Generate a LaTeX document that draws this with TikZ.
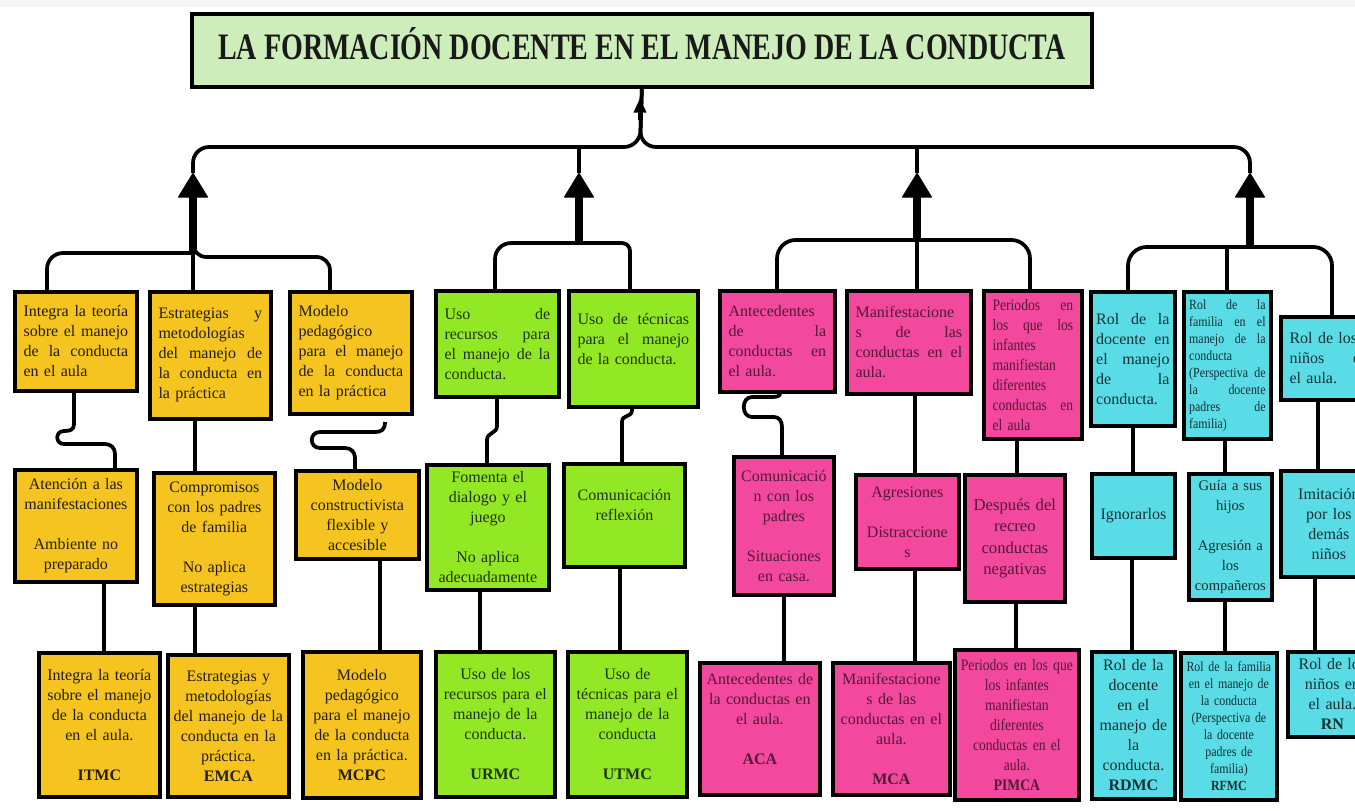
\documentclass[tikz,border=0pt]{standalone}
\usepackage{fontspec}
\setmainfont{Liberation Serif}
\newfontfamily\narrowfont[FakeStretch=0.85]{Liberation Serif}
\newfontfamily\titlefont[FakeStretch=0.75]{Liberation Serif}
\usepackage{xcolor}
\usepackage{tikz}
\usetikzlibrary{arrows.meta}
\setlength{\parindent}{0pt}

\definecolor{titlefill}{RGB}{205,238,186}
\definecolor{orangefill}{RGB}{245,196,32}
\definecolor{greenfill}{RGB}{146,232,36}
\definecolor{pinkfill}{RGB}{242,72,158}
\definecolor{cyanfill}{RGB}{90,220,230}

\begin{document}
\begin{tikzpicture}[x=0.75pt,y=0.75pt,yscale=-1,xscale=1,
	box/.style={draw=black, line width=2.8pt, anchor=north west, inner xsep=4pt, inner ysep=1pt, font=\fontsize{12}{15}\selectfont},
	sz/.style 2 args={minimum width=#1*0.75pt, minimum height=#2*0.75pt, text width=#1*0.75pt-8pt},
	jsz/.style 2 args={minimum width=#1*0.75pt, minimum height=#2*0.75pt, text width=#1*0.75pt-13pt},
	obox/.style={box, fill=orangefill, text=orangefill!15!black},
	gbox/.style={box, fill=greenfill, text=greenfill!22!black},
	pbox/.style={box, fill=pinkfill, text=pinkfill!35!black},
	cbox/.style={box, fill=cyanfill, text=cyanfill!22!black},
	jl/.style={align=left},
	cl/.style={align=center},
	narrow/.style={font=\narrowfont\fontsize{12}{15}\selectfont},
	small/.style={font=\narrowfont\fontsize{10.5}{12.75}\selectfont},
	link/.style={line width=2.8pt, line join=round},
	bigarrow/.style={line width=6.5pt, -{Triangle[width=23pt,length=19pt,line width=1pt,round]}},
	smallarrow/.style={line width=2.8pt, -{Triangle[width=9pt,length=11pt]}}
]
				\path[use as bounding box] (0,0) rectangle (1355,810);
				\clip (0,0) rectangle (1355,810);
				\fill[gray!8] (0,0) rectangle (1355,7);
				
				%Shape: Rectangle [title]
				\node[draw=black, line width=2.8pt, fill=titlefill, anchor=north west, minimum width=900*0.75pt, minimum height=73*0.75pt, text depth=11pt, text=black!90] (title) at (190,12) {\titlefont\fontsize{28}{30}\selectfont\bfseries LA FORMACIÓN DOCENTE EN EL MANEJO DE LA CONDUCTA};
				
				%Shape: Rectangle [orange, first row]
				\node[obox, jl, jsz={122}{99}] (teoria) at (13,290) {Integra \hfill la \hfill teoría\\ sobre \hfill el \hfill manejo\\ de \hfill la \hfill conducta\\ en el aula};
				\node[obox, jl, jsz={121}{127}] (estrategias) at (148,290) {Estrategias \hfill y\\ metodologías\\ del \hfill manejo \hfill de\\ la \hfill conducta \hfill en\\ la práctica};
				\node[obox, jl, jsz={122}{122}] (modelo) at (288,290) {Modelo\\ pedagógico\\ para \hfill el \hfill manejo\\ de \hfill la \hfill conducta\\ en la práctica};
				%Shape: Rectangle [orange, second row]
				\node[obox, cl, sz={122}{112}] (atencion) at (13,468) {Atención a las\\ manifestaciones\\[15pt] Ambiente no\\ preparado};
				\node[obox, cl, sz={121}{132}] (compromisos) at (152,471) {Compromisos\\ con los padres\\ de familia\\[15pt] No aplica\\ estrategias};
				\node[obox, cl, sz={123}{88}] (constructivista) at (294,469) {Modelo\\ constructivista\\ flexible y\\ accesible};
				%Shape: Rectangle [orange, third row]
				\node[obox, cl, sz={121}{144}] (itmc) at (37,651) {Integra la teoría\\ sobre el manejo\\ de la conducta\\ en el aula.\\[15pt] \textbf{ITMC}};
				\node[obox, cl, sz={121}{142}] (emca) at (166,653) {Estrategias y\\ metodologías\\ del manejo de la\\ conducta en la\\ práctica.\\ \textbf{EMCA}};
				\node[obox, cl, sz={118}{146}] (mcpc) at (301,650) {Modelo\\ pedagógico\\ para el manejo\\ de la conducta\\ en la práctica.\\ \textbf{MCPC}};
				
				%Shape: Rectangle [green]
				\node[gbox, jl, jsz={123}{106}] (recursos) at (434,289) {Uso \hfill de\\ recursos \hfill para\\ el \hfill manejo \hfill de \hfill la\\ conducta.};
				\node[gbox, jl, jsz={129}{116}] (tecnicas) at (567,289) {Uso \hfill de \hfill técnicas\\ para \hfill el \hfill manejo\\ de la conducta.\\ \mbox{}};
				\node[gbox, cl, sz={122}{125}] (fomenta) at (425,463) {Fomenta el\\ dialogo y el\\ juego\\[15pt] No aplica\\ adecuadamente};
				\node[gbox, cl, sz={121}{103}] (comunicacion) at (562,462) {Comunicación\\ reflexión\\ \mbox{}};
				\node[gbox, cl, sz={119}{145}] (urmc) at (434,650) {Uso de los\\ recursos para el\\ manejo de la\\ conducta.\\[15pt] \textbf{URMC}};
				\node[gbox, cl, sz={119}{145}] (utmc) at (566,650) {Uso de\\ técnicas para el\\ manejo de la\\ conducta\\[15pt] \textbf{UTMC}};
				
				%Shape: Rectangle [pink]
				\node[pbox, jl, jsz={115}{101}] (antecedentes) at (718,289) {Antecedentes\\ de \hfill la\\ conductas \hfill en\\ el aula.};
				\node[pbox, jl, jsz={124}{103}] (manifestaciones) at (845,289) {Manifestacione\\ s \hfill de \hfill las\\ conductas \hfill en \hfill el\\ aula.};
				\node[pbox, jl, narrow, jsz={98}{148}] (periodos) at (982,289) {Periodos \hfill en\\ los \hfill que \hfill los\\ infantes\\ manifiestan\\ diferentes\\ conductas \hfill en\\ el aula};
				\node[pbox, cl, sz={100}{138}] (padres) at (732,455) {Comunicació\\ n con los\\ padres\\[15pt] Situaciones\\ en casa.};
				\node[pbox, cl, sz={103}{94}] (agresiones) at (854,473) {Agresiones\\[15pt] Distraccione\\ s};
				\node[pbox, cl, sz={100}{127}, font=\fontsize{12.5}{16}\selectfont] (recreo) at (963,473) {Después del\\ recreo\\ conductas\\ negativas};
				\node[pbox, cl, sz={120}{132}] (aca) at (698,661) {Antecedentes de\\ la conductas en\\ el aula.\\[15pt] \textbf{ACA}\\ \mbox{}};
				\node[pbox, cl, sz={117}{132}] (mca) at (831,661) {Manifestacione\\ s de las\\ conductas en el\\ aula.\\[15pt] \textbf{MCA}};
				\node[pbox, cl, narrow, sz={124}{150}] (pimca) at (953,648) {Periodos en los que\\ los infantes\\ manifiestan\\ diferentes\\ conductas en el\\ aula.\\ \textbf{PIMCA}};
				
				%Shape: Rectangle [cyan]
				\node[cbox, jl, sz={84}{134}] (docente) at (1089,290) {Rol \hfill de \hfill la\\ docente \hfill en\\ el \hfill manejo\\ de \hfill la\\ conducta.};
				\node[cbox, jl, small, sz={87}{147}] (familia) at (1182,290) {Rol \hfill de \hfill la\\ familia \hfill en \hfill el\\ manejo \hfill de \hfill la\\ conducta\\ (Perspectiva \hfill de\\ la \hfill docente\\ padres \hfill de\\ familia)};
				\node[cbox, jl, jsz={96}{83}] (ninos) at (1279,315) {Rol de los\\ niños \hfill en\\ el aula.};
				\node[cbox, cl, sz={83}{84}] (ignorarlos) at (1090,472) {Ignorarlos};
				\node[cbox, cl, sz={83}{126}, font=\fontsize{11}{15}\selectfont] (guia) at (1187,472) {Guía a sus\\ hijos\\[15pt] Agresión a\\ los\\ compañeros};
				\node[cbox, cl, sz={96}{106}] (imitacion) at (1279,469) {Imitación\\ por los\\ demás\\ niños};
				\node[cbox, cl, sz={83}{147}] (rdmc) at (1090,650) {Rol de la\\ docente\\ en el\\ manejo de\\ la\\ conducta.\\ \textbf{RDMC}};
				\node[cbox, cl, small, sz={96}{147}] (rfmc) at (1179,651) {Rol de la familia\\ en el manejo de\\ la conducta\\ (Perspectiva de\\ la docente\\ padres de\\ familia)\\ \textbf{RFMC}};
				\node[cbox, cl, sz={89}{85}] (rn) at (1286,650) {Rol de los\\ niños en\\ el aula.\\ \textbf{RN}};
				
				\coordinate (j1) at (193,253); \coordinate (a1) at (193,173);
				\coordinate (j2) at (579,243); \coordinate (a2) at (579,173); \coordinate (b2) at (579,147);
				\coordinate (j3) at (917,240); \coordinate (a3) at (917,173); \coordinate (b3) at (917,147);
				\coordinate (j4) at (1250,247); \coordinate (a4) at (1250,173);
				\coordinate (tip) at (640,98);
				\coordinate (hook3) at (385,422);
				
				%Straight Lines [main bar]
				\draw[link, rounded corners=12] (title.south) -- (640,147) -- (193,147) -- (a1);
				\draw[link, rounded corners=12] (title.south) -- (640,147) -- (1250,147) -- (a4);
				\draw[link] (b2) -- (a2);
				\draw[link] (b3) -- (a3);
				\draw[smallarrow] (tip) ++(0,22) -- (tip);
				\draw[bigarrow] (j1) -- (a1);
				\draw[bigarrow] (j2) -- (a2);
				\draw[bigarrow] (j3) -- (a3);
				\draw[bigarrow] (j4) -- (a4);
				
				%Straight Lines [branches]
				\draw[link, rounded corners=12] (j1) -| (47,0 |- teoria.north);
				\draw[link] (j1) -- (j1 |- estrategias.north);
				\draw[link, rounded corners=10] (j1) ++(0,-12) |- (330,257) -- (330,0 |- modelo.north);
				\draw[link, rounded corners=12] (j2) -| (495,0 |- recursos.north);
				\draw[link, rounded corners=6] (j2) -| (630,0 |- tecnicas.north);
				\draw[link, rounded corners=14] (j3) -| (777,0 |- antecedentes.north);
				\draw[link] (j3) -- (j3 |- manifestaciones.north);
				\draw[link, rounded corners=14] (j3) -| (1030,0 |- periodos.north);
				\draw[link, rounded corners=14] (j4) -| (1128,0 |- docente.north);
				\draw[link] (1227,0 |- j4) -- (1227,0 |- familia.north);
				\draw[link, rounded corners=14] (j4) -| (1332,0 |- ninos.north);
				
				%Curve Lines
				\draw[link] (74,0 |- teoria.south) -- (74,424) .. controls (74,430) and (70,431) .. (64,431) .. controls (55,431) and (55,444) .. (64,444) -- (105,444) .. controls (111,444) and (115,448) .. (115,454) -- (115,0 |- atencion.north);
				\draw[link] (hook3) .. controls (385,430) and (381,432) .. (375,432) -- (320,432) .. controls (309,432) and (309,448) .. (320,448) -- (345,448) .. controls (351,448) and (355,452) .. (355,458) -- (355,0 |- constructivista.north);
				\draw[link] (497,0 |- recursos.south) -- (497,426) .. controls (497,434) and (487,432) .. (487,440) -- (487,0 |- fomenta.north);
				\draw[link] (632,0 |- tecnicas.south) -- (632,410) .. controls (632,418) and (622,414) .. (622,422) -- (622,0 |- comunicacion.north);
				\draw[link] (780,0 |- antecedentes.south) .. controls (780,396) and (777,397) .. (772,397) -- (752,397) .. controls (741,397) and (741,417) .. (752,417) -- (774,417) .. controls (779,417) and (782,421) .. (782,427) -- (782,0 |- padres.north);
				
				%Straight Lines [second to third row]
				\draw[link] (195,0 |- estrategias.south) -- (195,0 |- compromisos.north);
				\draw[link] (915,0 |- manifestaciones.south) -- (915,0 |- agresiones.north);
				\draw[link] (1017,0 |- periodos.south) -- (1017,0 |- recreo.north);
				\draw[link] (1133,0 |- docente.south) -- (1133,0 |- ignorarlos.north);
				\draw[link] (1225,0 |- familia.south) -- (1225,0 |- guia.north);
				\draw[link] (1318,0 |- ninos.south) -- (1318,0 |- imitacion.north);
				\draw[link] (104,0 |- atencion.south) -- (104,0 |- itmc.north);
				\draw[link] (195,0 |- compromisos.south) -- (195,0 |- emca.north);
				\draw[link] (380,0 |- constructivista.south) -- (380,0 |- mcpc.north);
				\draw[link] (480,0 |- fomenta.south) -- (480,0 |- urmc.north);
				\draw[link] (620,0 |- comunicacion.south) -- (620,0 |- utmc.north);
				\draw[link] (784,0 |- padres.south) -- (784,0 |- aca.north);
				\draw[link] (915,0 |- agresiones.south) -- (915,0 |- mca.north);
				\draw[link] (1016,0 |- recreo.south) -- (1016,0 |- pimca.north);
				\draw[link] (1132,0 |- ignorarlos.south) -- (1132,0 |- rdmc.north);
				\draw[link] (1225,0 |- guia.south) -- (1225,0 |- rfmc.north);
				\draw[link] (1315,0 |- imitacion.south) -- (1315,0 |- rn.north);
				
\end{tikzpicture}
\end{document}
